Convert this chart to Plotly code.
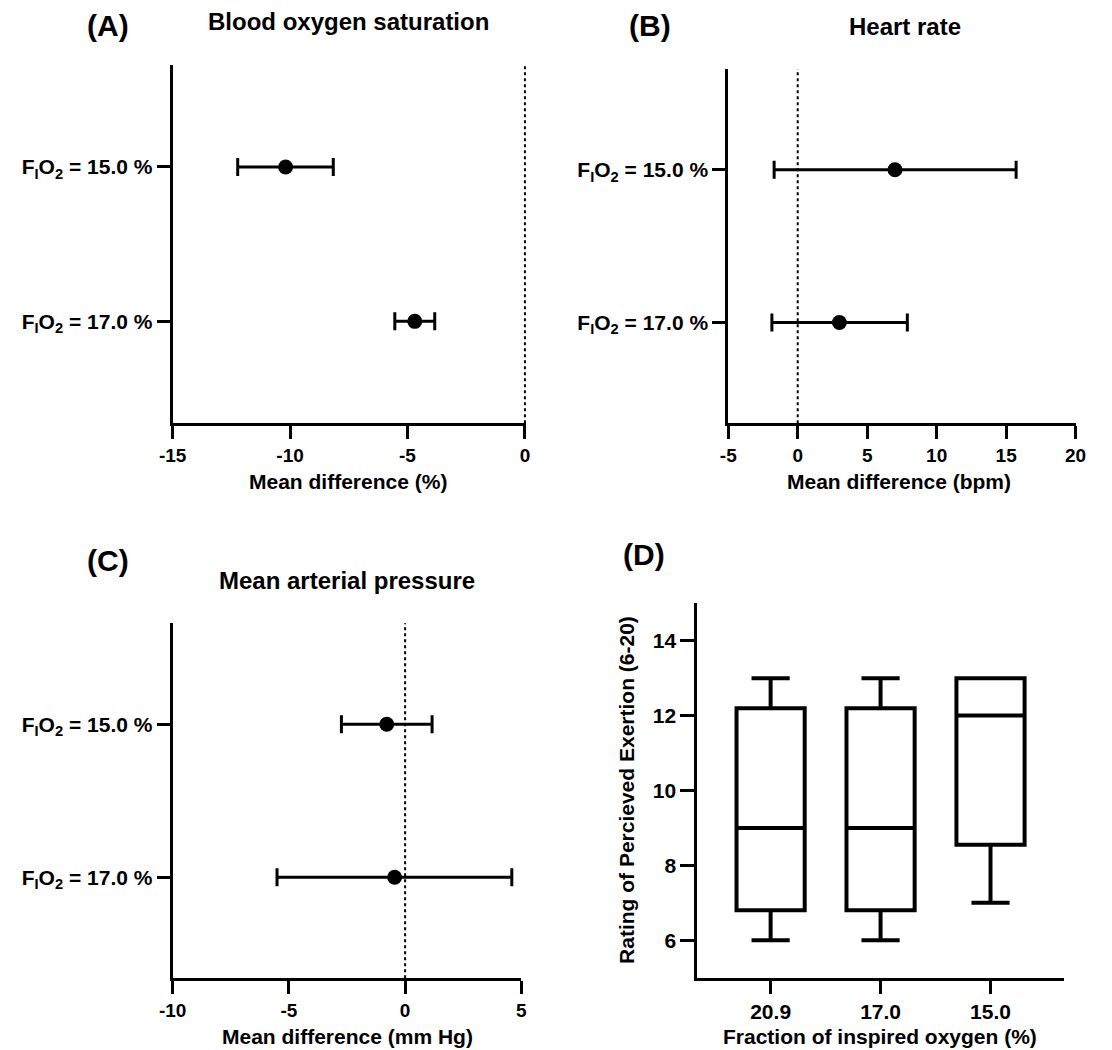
import plotly.graph_objects as go
from plotly.subplots import make_subplots

W, H = 1112, 1050

# ---- data ---------------------------------------------------------------
row_labels = ["F<sub>I</sub>O<sub>2</sub> = 17.0 %", "F<sub>I</sub>O<sub>2</sub> = 15.0 %"]
row_pos = [0, 1]

# (A) blood oxygen saturation, mean difference and 95% CI (%)
spo2_mean = [-4.69, -10.19]
spo2_low = [-5.54, -12.23]
spo2_high = [-3.84, -8.16]
spo2_ticks = [-15, -10, -5, 0]

# (B) heart rate (bpm)
hr_mean = [3.0, 7.0]
hr_low = [-1.86, -1.70]
hr_high = [7.89, 15.72]
hr_ticks = [-5, 0, 5, 10, 15, 20]

# (C) mean arterial pressure (mm Hg)
map_mean = [-0.45, -0.79]
map_low = [-5.51, -2.74]
map_high = [4.59, 1.16]
map_ticks = [-10, -5, 0, 5]

# (D) rating of perceived exertion by inspired oxygen fraction
fio2_groups = ["20.9", "17.0", "15.0"]
rpe_min = [6, 6, 7]
rpe_q1 = [6.8, 6.8, 8.55]
rpe_median = [9, 9, 12]
rpe_q3 = [12.2, 12.2, 13]
rpe_max = [13, 13, 13]
rpe_ticks = [6, 8, 10, 12, 14]

FONT = "Liberation Sans, Arial, Helvetica, sans-serif"
BLACK = "#000000"


def px_x(v):
    return v / W


def px_y(v):
    return 1 - v / H


def tick_text(vals):
    # plain hyphen-minus for negative numbers
    return [str(v) for v in vals]


fig = make_subplots(rows=2, cols=2)

# panel geometry in pixels: (left, right, top, bottom)
panels = {
    1: (162.3, 524.1, 65.0, 423.3),
    2: (730.7, 1086.0, 69.0, 423.3),
    3: (162.3, 519.0, 623.3, 978.3),
    4: (699.0, 1074.0, 603.3, 977.7),
}


def forest(mean, low, high, row, col):
    fig.add_trace(
        go.Scatter(
            x=mean,
            y=row_pos,
            mode="markers",
            marker=dict(color=BLACK, size=15),
            error_x=dict(
                type="data",
                symmetric=False,
                array=[h - m for h, m in zip(high, mean)],
                arrayminus=[m - l for m, l in zip(mean, low)],
                color=BLACK,
                thickness=3,
                width=9,
            ),
            showlegend=False,
            hoverinfo="x",
        ),
        row=row,
        col=col,
    )


forest(spo2_mean, spo2_low, spo2_high, 1, 1)
forest(hr_mean, hr_low, hr_high, 1, 2)
forest(map_mean, map_low, map_high, 2, 1)

fig.add_trace(
    go.Box(
        x=fio2_groups,
        q1=rpe_q1,
        median=rpe_median,
        q3=rpe_q3,
        lowerfence=rpe_min,
        upperfence=rpe_max,
        boxpoints=False,
        fillcolor="white",
        line=dict(color=BLACK, width=4),
        whiskerwidth=0.56,
        width=0.62,
        showlegend=False,
    ),
    row=2,
    col=2,
)


def tfont(size):
    return dict(family=FONT, size=size, color=BLACK, weight="bold")


axis_common = dict(
    showline=True,
    linecolor=BLACK,
    linewidth=3,
    ticks="outside",
    ticklen=13,
    tickwidth=3,
    tickcolor=BLACK,
    showgrid=False,
    zeroline=False,
    tickfont=tfont(19),
)

names = {1: ("xaxis", "yaxis"), 2: ("xaxis2", "yaxis2"), 3: ("xaxis3", "yaxis3"), 4: ("xaxis4", "yaxis4")}
x_ranges = {1: [-15, 0.06], 2: [-5, 20], 3: [-10, 5]}
x_ticks = {1: spo2_ticks, 2: hr_ticks, 3: map_ticks}

for k, (l, r, t, b) in panels.items():
    xa, ya = names[k]
    xdict = dict(axis_common, domain=[px_x(l), px_x(r)])
    ydict = dict(axis_common, domain=[px_y(b), px_y(t)])
    if k in x_ranges:
        xdict.update(
            range=x_ranges[k],
            tickmode="array",
            tickvals=x_ticks[k],
            ticktext=tick_text(x_ticks[k]),
        )
        ydict.update(
            range=[-0.66, 1.66],
            tickmode="array",
            tickvals=row_pos,
            ticktext=row_labels,
            tickfont=tfont(21),
        )
    else:
        xdict.update(range=[-0.667, 2.667], type="category", tickfont=tfont(21))
        ydict.update(
            range=[5, 15],
            tickmode="array",
            tickvals=rpe_ticks,
            ticktext=tick_text(rpe_ticks),
            ticklen=14,
            tickfont=tfont(21),
        )
    fig.layout[xa].update(xdict)
    fig.layout[ya].update(ydict)

# dotted reference line at zero difference
for xref, yref in (("x", "y"), ("x2", "y2"), ("x3", "y3")):
    fig.add_shape(
        type="line",
        xref=xref,
        yref=yref + " domain",
        x0=0,
        x1=0,
        y0=0,
        y1=1,
        line=dict(color=BLACK, width=2, dash="dot"),
        layer="below",
    )


def label(text, x, y, size, angle=0):
    fig.add_annotation(
        text=text,
        x=px_x(x),
        y=px_y(y),
        xref="paper",
        yref="paper",
        xanchor="center",
        yanchor="middle",
        showarrow=False,
        textangle=angle,
        font=tfont(size),
    )


# panel letters and titles
label("(A)", 96, 25, 30)
label("Blood oxygen saturation", 342, 22, 24)
label("(B)", 651, 25, 30)
label("Heart rate", 911, 26, 24)
label("(C)", 96, 560, 30)
label("Mean arterial pressure", 341, 580, 24)
label("(D)", 645, 554, 30)

# axis titles
label("Mean difference (%)", 342, 481, 21)
label("Mean difference (bpm)", 905, 481, 21)
label("Mean difference (mm Hg)", 341, 1036, 21)
label("Fraction of inspired oxygen (%)", 886, 1036, 21)
label("Rating of Percieved Exertion (6-20)", 626, 790, 21, angle=-90)

fig.update_layout(
    width=W,
    height=H,
    margin=dict(l=0, r=0, t=0, b=0),
    paper_bgcolor="white",
    plot_bgcolor="white",
    showlegend=False,
    font=dict(family=FONT, color=BLACK),
)

fig.write_html("out.html")
